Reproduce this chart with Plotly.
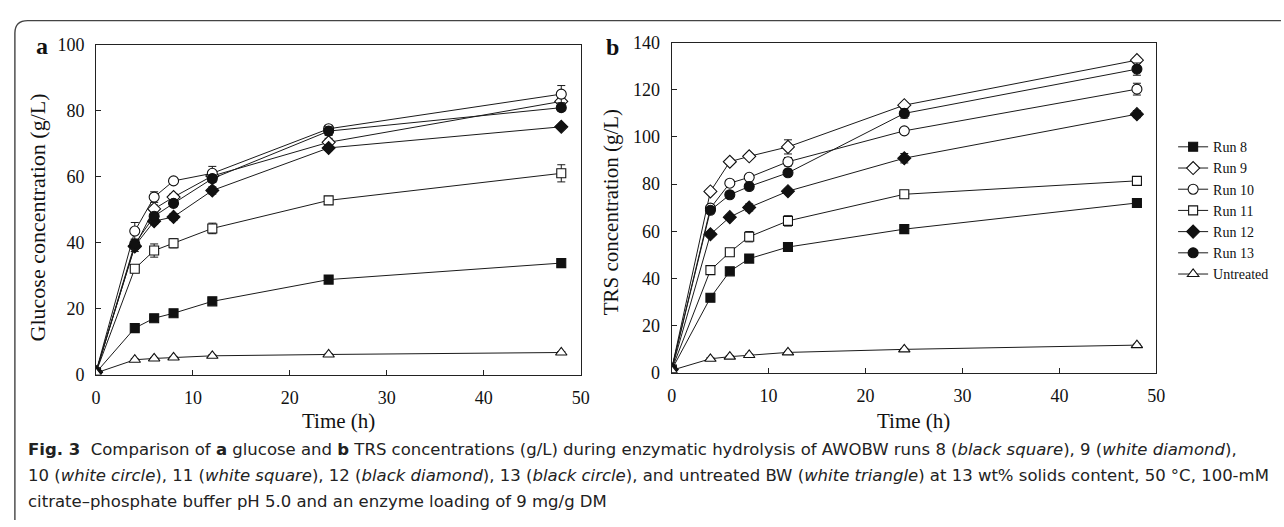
import plotly.graph_objects as go

W, H = 1284, 527

time_h = [0, 4, 6, 8, 12, 24, 48]
series_names = ["Run 8", "Run 9", "Run 10", "Run 11", "Run 12", "Run 13", "Untreated"]

# Panel a: glucose (g/L)
glc_run8 = [0.6, 14.1, 17.1, 18.6, 22.2, 28.8, 33.8]
glc_run9 = [0.8, 38.8, 50.2, 53.8, 60.2, 70.4, 82.8]
glc_run10 = [0.8, 43.5, 53.8, 58.7, 61.0, 74.5, 85.0]
glc_run11 = [0.7, 32.1, 37.6, 39.8, 44.3, 52.8, 61.0]
glc_run12 = [0.7, 39.0, 46.5, 47.8, 55.8, 68.7, 75.1]
glc_run13 = [0.7, 39.6, 48.0, 51.9, 59.4, 73.8, 80.9]
glc_untr = [0.5, 4.5, 4.9, 5.2, 5.7, 6.1, 6.7]

glc_err8 = [0.3, 0.6, 0.6, 0.6, 0.7, 1.0, 0.7]
glc_err9 = [0.3, 1.5, 1.2, 1.0, 1.0, 1.2, 1.2]
glc_err10 = [0.3, 2.6, 1.6, 0.6, 2.1, 1.0, 2.6]
glc_err11 = [0.3, 0.6, 2.0, 1.4, 1.6, 0.6, 2.6]
glc_err12 = [0.3, 0.8, 0.9, 1.0, 1.1, 0.8, 0.5]
glc_err13 = [0.3, 1.5, 1.0, 0.8, 1.2, 1.3, 1.0]
glc_erru = [0.2, 0.3, 0.3, 0.3, 0.3, 0.3, 0.3]

# Panel b: TRS (g/L)
trs_run8 = [1.2, 31.8, 43.0, 48.4, 53.3, 60.9, 72.0]
trs_run9 = [1.5, 76.9, 89.5, 91.8, 95.8, 113.5, 132.6]
trs_run10 = [1.5, 69.8, 80.4, 82.9, 89.5, 102.6, 120.3]
trs_run11 = [1.3, 43.5, 51.1, 57.7, 64.4, 75.7, 81.4]
trs_run12 = [1.3, 58.7, 66.0, 70.1, 77.0, 91.0, 109.7]
trs_run13 = [1.4, 68.9, 75.5, 79.0, 84.8, 110.0, 128.8]
trs_untr = [1.0, 5.9, 6.8, 7.5, 8.6, 9.9, 11.7]

trs_err8 = [0.4, 1.5, 1.0, 1.0, 1.0, 0.8, 1.0]
trs_err9 = [0.4, 1.0, 1.0, 1.0, 3.0, 1.0, 1.0]
trs_err10 = [0.4, 1.0, 1.0, 1.0, 1.8, 1.0, 2.5]
trs_err11 = [0.4, 1.0, 1.0, 2.2, 2.2, 1.0, 1.0]
trs_err12 = [0.4, 1.0, 1.0, 1.5, 1.0, 2.0, 1.5]
trs_err13 = [0.4, 1.0, 1.0, 1.0, 1.5, 2.0, 2.6]
trs_erru = [0.3, 0.4, 0.4, 0.4, 0.4, 0.4, 0.4]

x_ticks = [0, 10, 20, 30, 40, 50]
glc_ticks = [0, 20, 40, 60, 80, 100]
trs_ticks = [0, 20, 40, 60, 80, 100, 120, 140]

symbols = ["square", "diamond", "circle", "square", "diamond", "circle", "triangle-up"]
fills = ["#111111", "white", "white", "white", "#111111", "#111111", "white"]
sizes = [9, 10, 10, 9, 10, 10, 10]

glc_sets = [glc_run8, glc_run9, glc_run10, glc_run11, glc_run12, glc_run13, glc_untr]
glc_errs = [glc_err8, glc_err9, glc_err10, glc_err11, glc_err12, glc_err13, glc_erru]
trs_sets = [trs_run8, trs_run9, trs_run10, trs_run11, trs_run12, trs_run13, trs_untr]
trs_errs = [trs_err8, trs_err9, trs_err10, trs_err11, trs_err12, trs_err13, trs_erru]

SERIF = "Liberation Serif"
fig = go.Figure()

def add_series(ys, errs, xa, ya, name, sym, fill, size, show):
    fig.add_trace(go.Scatter(
        x=time_h, y=ys, xaxis=xa, yaxis=ya, name=name, mode="lines+markers",
        line=dict(color="#1a1a1a", width=1),
        marker=dict(symbol=sym, size=size, color=fill,
                    line=dict(color="#111111", width=1.1)),
        error_y=dict(type="data", array=errs, visible=True, color="#1a1a1a", thickness=1, width=4),
        showlegend=show,
    ))

for i in range(7):
    add_series(glc_sets[i], glc_errs[i], "x", "y", series_names[i], symbols[i], fills[i], sizes[i], False)
for i in range(7):
    add_series(trs_sets[i], trs_errs[i], "x2", "y2", series_names[i], symbols[i], fills[i], sizes[i], True)

def px(v):
    return v / W

def py(v):
    return 1 - v / H

axis_common = dict(showline=True, linecolor="#222222", linewidth=1, mirror=True,
                   ticks="inside", ticklen=5, tickcolor="#222222", tickwidth=1,
                   showgrid=False, zeroline=False, ticklabelstandoff=7,
                   tickfont=dict(family=SERIF, size=18, color="#111111"))

fig.update_layout(
    width=W, height=H,
    margin=dict(l=0, r=0, t=0, b=0, pad=0),
    paper_bgcolor="white", plot_bgcolor="white",
    xaxis=dict(domain=[px(92), px(582)], range=[0, 50], tickvals=x_ticks, anchor="y", **axis_common),
    yaxis=dict(domain=[py(379), py(36)], range=[0, 100], tickvals=glc_ticks, anchor="x", **axis_common),
    xaxis2=dict(domain=[px(674), px(1164)], range=[0, 50], tickvals=x_ticks, anchor="y2", **axis_common),
    yaxis2=dict(domain=[py(377), py(34)], range=[0, 140], tickvals=trs_ticks, anchor="x2", **axis_common),
    legend=dict(x=px(1181), y=py(126), xanchor="left", yanchor="top",
                font=dict(family=SERIF, size=14, color="#111111"),
                bgcolor="rgba(0,0,0,0)", borderwidth=0, itemwidth=30, tracegroupgap=0),
    showlegend=True,
)

ann = []
def text(x, y, s, size, family=SERIF, angle=0, xanchor="center", color="#111111"):
    ann.append(dict(x=px(x), y=py(y), xref="paper", yref="paper", text=s, showarrow=False,
                    font=dict(family=family, size=size, color=color), textangle=angle,
                    xanchor=xanchor, yanchor="middle"))

text(37, 37, "<b>a</b>", 24)
text(614, 38, "<b>b</b>", 24)
text(337, 427, "Time (h)", 21)
text(919, 427, "Time (h)", 21)
text(33, 216, "Glucose concentration (g/L)", 22, angle=-90)
text(613, 210, "TRS concentration (g/L)", 21, angle=-90)

SANS = "DejaVu Sans"
cap1 = ("<b>Fig. 3</b>  Comparison of <b>a</b> glucose and <b>b</b> TRS concentrations (g/L) during enzymatic "
        "hydrolysis of AWOBW runs 8 (<i>black square</i>), 9 (<i>white diamond</i>),")
cap2 = ("10 (<i>white circle</i>), 11 (<i>white square</i>), 12 (<i>black diamond</i>), 13 (<i>black circle</i>), "
        "and untreated BW (<i>white triangle</i>) at 13 wt% solids content, 50 °C, 100-mM")
cap3 = "citrate–phosphate buffer pH 5.0 and an enzyme loading of 9 mg/g DM"
text(21, 457, cap1, 16.5, family=SANS, xanchor="left", color="#222222")
text(21, 484, cap2, 16.5, family=SANS, xanchor="left", color="#222222")
text(21, 511, cap3, 16.5, family=SANS, xanchor="left", color="#222222")

fig.update_layout(annotations=ann)

fig.add_shape(type="path", xref="paper", yref="paper",
              path=f"M {px(10)},{py(530)} L {px(10)},{py(24)} Q {px(10)},{py(11)} {px(23)},{py(11)} L {px(1290)},{py(11)}",
              line=dict(color="#444444", width=1.4))

fig.write_html("out.html")
